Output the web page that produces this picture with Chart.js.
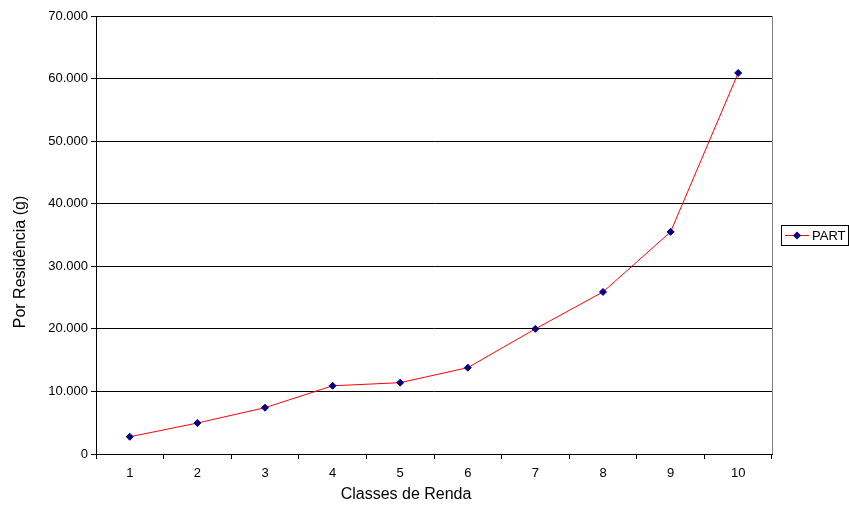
<!DOCTYPE html>
<html>
<head>
<meta charset="utf-8">
<script src="https://cdn.jsdelivr.net/npm/chart.js@4"></script>
<style>
  html, body { margin: 0; padding: 0; background: #fff; }
</style>
</head>
<body>
<canvas id="myChart" width="849" height="510"></canvas>
<script>
var classes = ["1", "2", "3", "4", "5", "6", "7", "8", "9", "10"];
var partValues = [2750, 4950, 7400, 10900, 11400, 13800, 20000, 25900, 35500, 60900];
var seriesName = "PART";
var xTitle = "Classes de Renda";
var yTitle = "Por Residência (g)";

function fmt(v) {
  return String(v).replace(/\B(?=(\d{3})+(?!\d))/g, ".");
}

// titles, right border and excel-like legend
var extras = {
  id: "extras",
  afterDraw: function(chart) {
    var ctx = chart.ctx, a = chart.chartArea;
    ctx.save();
    ctx.strokeStyle = "#808080";
    ctx.lineWidth = 1;
    ctx.beginPath();
    ctx.moveTo(Math.round(a.right) + 0.5, a.top);
    ctx.lineTo(Math.round(a.right) + 0.5, a.bottom);
    ctx.stroke();

    ctx.fillStyle = "#000";
    ctx.font = "16px 'Liberation Sans', Arial, sans-serif";
    ctx.textAlign = "center";
    ctx.textBaseline = "middle";
    ctx.fillText(xTitle, 406, 495);
    ctx.translate(21, 262);
    ctx.rotate(-Math.PI / 2);
    ctx.fillText(yTitle, 0, 0);
    ctx.restore();

    // legend
    ctx.save();
    var lx = a.right + 9, ly = (a.top + a.bottom) / 2 - 10;
    ctx.strokeStyle = "#000";
    ctx.lineWidth = 1;
    ctx.strokeRect(Math.round(lx) + 0.5, Math.round(ly) + 0.5, 67, 20);
    ctx.strokeStyle = "#ff0000";
    ctx.beginPath();
    ctx.moveTo(lx + 4, ly + 10.5);
    ctx.lineTo(lx + 28, ly + 10.5);
    ctx.stroke();
    ctx.fillStyle = "#000080";
    var cx = lx + 16, cy = ly + 10.5;
    ctx.beginPath();
    ctx.moveTo(cx, cy - 4);
    ctx.lineTo(cx + 4, cy);
    ctx.lineTo(cx, cy + 4);
    ctx.lineTo(cx - 4, cy);
    ctx.closePath();
    ctx.fill();
    ctx.fillStyle = "#000";
    ctx.font = "13px 'Liberation Sans', Arial, sans-serif";
    ctx.textAlign = "left";
    ctx.textBaseline = "middle";
    ctx.fillText(seriesName, lx + 31, ly + 11);
    ctx.restore();
  }
};

new Chart("myChart", {
  type: "line",
  data: {
    labels: classes,
    datasets: [{
      label: seriesName,
      data: partValues,
      borderColor: "#ff0000",
      borderWidth: 1,
      backgroundColor: "#000080",
      pointBackgroundColor: "#000080",
      pointBorderColor: "#000080",
      pointStyle: "rectRot",
      pointRadius: 3.5,
      pointBorderWidth: 1,
      tension: 0,
      fill: false
    }]
  },
  options: {
    responsive: false,
    animation: false,
    layout: { padding: { left: 0, top: 16, right: 77, bottom: 0 } },
    plugins: {
      legend: { display: false },
      tooltip: { enabled: false }
    },
    scales: {
      x: {
        offset: true,
        grid: { offset: true, drawOnChartArea: false, tickLength: 5, color: "#000" },
        border: { color: "#000" },
        ticks: {
          color: "#000",
          padding: 7,
          font: { family: "'Liberation Sans', Arial, sans-serif", size: 13 },
          maxRotation: 0
        },
        afterFit: function(scale) { scale.height = 56; }
      },
      y: {
        min: 0,
        max: 70000,
        ticks: {
          stepSize: 10000,
          color: "#000",
          padding: 3,
          font: { family: "'Liberation Sans', Arial, sans-serif", size: 13 },
          callback: function(v) { return fmt(v); }
        },
        grid: { color: "#000", tickLength: 5 },
        border: { color: "#000" },
        afterFit: function(scale) { scale.width = 96; }
      }
    }
  },
  plugins: [extras]
});
</script>
</body>
</html>
